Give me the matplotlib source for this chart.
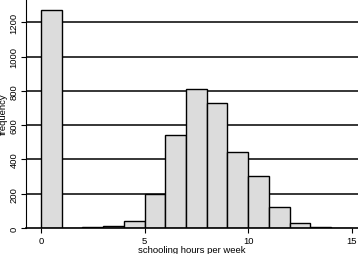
import matplotlib
matplotlib.use("Agg")
import matplotlib.pyplot as plt

# histogram bins (1 hour wide) and counts
bin_starts = [0, 1, 2, 3, 4, 5, 6, 7, 8, 9, 10, 11, 12, 13, 14]
counts = [1270, 1, 3, 10, 39, 200, 540, 812, 727, 445, 301, 121, 31, 5, 1]
y_ticks = [0, 200, 400, 600, 800, 1000, 1200]
x_ticks = [0, 5, 10, 15]

plt.rcParams["font.family"] = ["Liberation Sans", "DejaVu Sans"]

fig = plt.figure(figsize=(3.58, 2.55), dpi=100)
ax = fig.add_axes([26 / 358, 1 - 229 / 255, 1 - 26 / 358, 229 / 255])

for y in y_ticks[1:]:
    ax.axhline(y, color="black", lw=1.1, zorder=1)

ax.bar(bin_starts, counts, width=1.0, align="edge", color="#dcdcdc",
       edgecolor="black", linewidth=1.0, zorder=2)

ax.set_xlim(-0.72, 15.3)
ax.set_ylim(0, 1336)
ax.set_xticks(x_ticks)
ax.set_yticks(y_ticks)
ax.set_yticklabels([str(v) for v in y_ticks], rotation=90, va="center")
ax.tick_params(labelsize=6.8, length=3.5, width=0.8, pad=2)
ax.set_xlabel("schooling hours per week", fontsize=6.8, labelpad=0)
ax.set_ylabel("frequency", fontsize=6.8, labelpad=1)

for side in ["top", "right"]:
    ax.spines[side].set_visible(False)
ax.spines["left"].set_linewidth(0.8)
ax.spines["bottom"].set_linewidth(1.2)

fig.savefig("out.png", dpi=100)
